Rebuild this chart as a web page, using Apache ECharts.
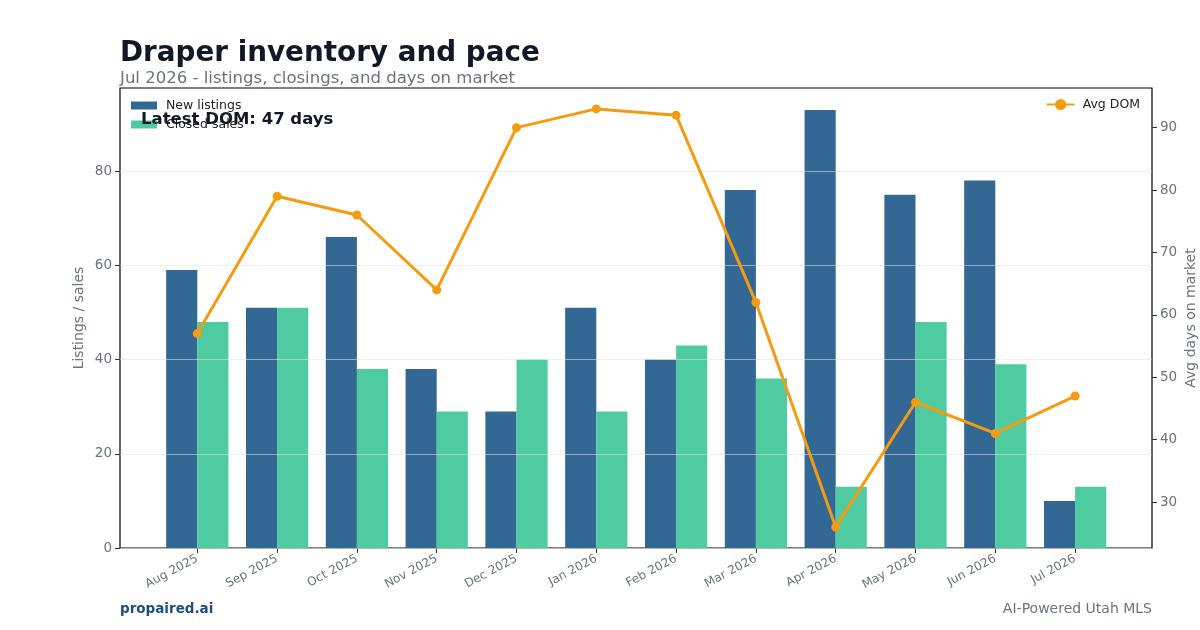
<!DOCTYPE html>
<html>
<head>
<meta charset="utf-8">
<script src="https://cdn.jsdelivr.net/npm/echarts@6/dist/echarts.min.js"></script>
<style>
  html, body { margin: 0; padding: 0; background: #fff; }
  #main { width: 1200px; height: 630px; }
</style>
</head>
<body>
<div id="main"></div>
<script>
// 数据
var months = ['Aug 2025', 'Sep 2025', 'Oct 2025', 'Nov 2025', 'Dec 2025', 'Jan 2026',
              'Feb 2026', 'Mar 2026', 'Apr 2026', 'May 2026', 'Jun 2026', 'Jul 2026'];
var newListings = [59, 51, 66, 38, 29, 51, 40, 76, 93, 75, 78, 10];
var closedSales = [48, 51, 38, 29, 40, 29, 43, 36, 13, 48, 39, 13];
var avgDom = [57, 79, 76, 64, 90, 93, 92, 62, 26, 46, 41, 47];
var leftTicks = [0, 20, 40, 60, 80];
var rightTicks = [30, 40, 50, 60, 70, 80, 90];

var font = 'DejaVu Sans';
var gray = '#6b7280';
var leftRange = [0, 97.65];
var rightRange = [22.65, 96.35];

var myChart = echarts.init(document.getElementById('main'));
var option = {
  backgroundColor: '#fff',
  textStyle: { fontFamily: font },
  title: {
    text: 'Draper inventory and pace',
    subtext: 'Jul 2026 - listings, closings, and days on market',
    left: 115, top: 35,
    itemGap: 2,
    textStyle: { fontFamily: font, fontSize: 27.8, fontWeight: 'bold', color: '#111827' },
    subtextStyle: { fontFamily: font, fontSize: 16.55, color: gray }
  },
  legend: [
    {
      data: ['New listings', 'Closed sales'],
      orient: 'vertical',
      left: 131, top: 99, padding: 0,
      itemWidth: 26, itemHeight: 8, itemGap: 6,
      icon: 'rect',
      textStyle: { fontFamily: font, fontSize: 12.5, color: '#222', padding: [0, 0, 0, 4] }
    },
    {
      data: ['Avg DOM'],
      right: 60, top: 98, padding: 0,
      itemWidth: 28, itemHeight: 14,
      textStyle: { fontFamily: font, fontSize: 12.5, color: '#222', padding: [0, 0, 0, 3] }
    }
  ],
  grid: [
    // 画柱子和折线的区域
    { left: 157.4, right: 85, top: 88, bottom: 82, outerBoundsMode: 'none', containLabel: false },
    // 外框和网格线
    { left: 120, right: 48, top: 88, bottom: 82, outerBoundsMode: 'none', containLabel: false,
      show: true, borderColor: '#000', borderWidth: 1.2, backgroundColor: 'transparent' }
  ],
  xAxis: [
    {
      type: 'category', gridIndex: 0, data: months,
      axisLine: { show: false },
      axisTick: { show: true, alignWithLabel: true, length: 5, lineStyle: { color: '#333' } },
      axisLabel: { rotate: 28, fontSize: 12, color: gray, margin: 10, fontFamily: font }
    },
    { type: 'category', gridIndex: 1, data: months, show: false }
  ],
  yAxis: [
    {
      type: 'value', gridIndex: 0, min: leftRange[0], max: leftRange[1], offset: 37.4,
      name: 'Listings / sales', nameLocation: 'middle', nameGap: 34, nameMoveOverlap: false,
      nameTextStyle: { fontSize: 14, color: gray, fontFamily: font },
      axisLine: { show: false },
      axisTick: { show: true, length: 5, customValues: leftTicks, lineStyle: { color: '#333' } },
      axisLabel: { customValues: leftTicks, fontSize: 13.5, color: gray, margin: 8 },
      splitLine: { show: false }
    },
    {
      type: 'value', gridIndex: 0, position: 'right', min: rightRange[0], max: rightRange[1], offset: 37,
      name: 'Avg days on market', nameLocation: 'middle', nameGap: 32, nameMoveOverlap: false,
      nameTextStyle: { fontSize: 14, color: gray, fontFamily: font },
      axisLine: { show: false },
      axisTick: { show: true, length: 5, customValues: rightTicks, lineStyle: { color: '#333' } },
      axisLabel: { customValues: rightTicks, fontSize: 13.5, color: gray, margin: 8 },
      splitLine: { show: false }
    },
    {
      type: 'value', gridIndex: 1, min: leftRange[0], max: leftRange[1], z: 3,
      axisLine: { show: false }, axisLabel: { show: false },
      splitLine: { show: true, lineStyle: { color: 'rgba(225,225,225,0.55)', width: 1 } },
      axisTick: { show: false, customValues: leftTicks }
    }
  ],
  series: [
    {
      name: 'New listings', type: 'bar', xAxisIndex: 0, yAxisIndex: 0,
      data: newListings, barWidth: '39%', barGap: '0%',
      itemStyle: { color: '#336895' }, z: 2
    },
    {
      name: 'Closed sales', type: 'bar', xAxisIndex: 0, yAxisIndex: 0,
      data: closedSales, barWidth: '39%', barGap: '0%',
      itemStyle: { color: '#4ecba0' }, z: 2
    },
    {
      name: 'Avg DOM', type: 'line', xAxisIndex: 0, yAxisIndex: 1,
      data: avgDom, symbol: 'circle', symbolSize: 9,
      lineStyle: { color: '#f39c12', width: 3 },
      itemStyle: { color: '#f39c12' }, z: 5
    }
  ],
  graphic: [
    {
      type: 'text', left: 141, top: 111, z: 10,
      style: { text: 'Latest DOM: 47 days', font: 'bold 16.5px "DejaVu Sans"', fill: '#111827' }
    },
    {
      type: 'text', left: 120, top: 602,
      style: { text: 'propaired.ai', font: 'bold 13.5px "DejaVu Sans"', fill: '#1a4f80' }
    },
    {
      type: 'text', right: 48, top: 602,
      style: { text: 'AI-Powered Utah MLS', font: '14px "DejaVu Sans"', fill: gray }
    }
  ]
};
myChart.setOption(option);
</script>
</body>
</html>
